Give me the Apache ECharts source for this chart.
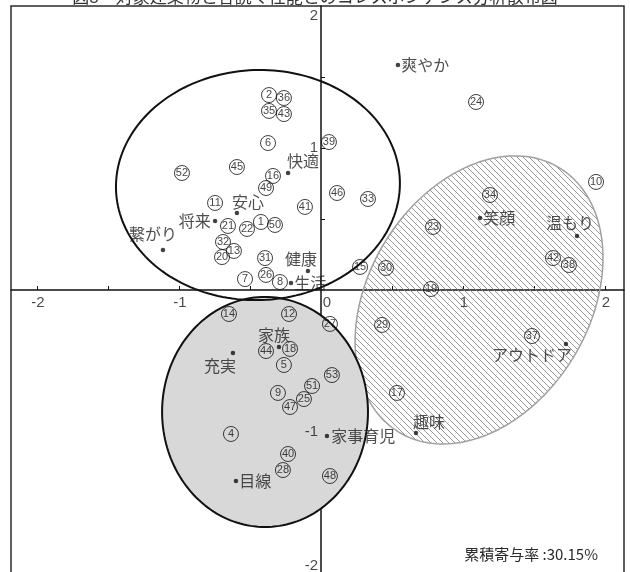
<!DOCTYPE html>
<html>
<head>
<meta charset="utf-8">
<title>コレスポンデンス分析散布図</title>
<script src="https://cdn.jsdelivr.net/npm/echarts@6/dist/echarts.min.js"></script>
<style>
  html, body { margin: 0; padding: 0; background: #fff; }
  #chart { width: 630px; height: 572px; }
</style>
</head>
<body>
<div id="chart"></div>
<script>
// ---- text ----
const titleText = '図8　対象建築物と各読く性能とのコレスポンデンス分析散布図';
const noteText = '累積寄与率 :30.15%';

// ---- axes ----
const xRange = [-2.183, 2.134];
const yRange = [-2, 2];
const xTickValues = [-2, -1.5, -1, -0.5, 0.5, 1, 1.5, 2];
const yTickValues = [-1.5, -1, -0.5, 0.5, 1, 1.5];
const xTickLabels = [-2, -1, 0, 1, 2];
const yTickLabels = [2, 1, -1, -2];

// ---- keyword (performance) points ----
const wordNames = ['爽やか', '快適', '安心', '将来', '繋がり', '健康', '生活', '笑顔', '温もり', 'アウトドア', '趣味', '家事育児', '家族', '充実', '目線'];
const wordX = [0.542, -0.232, -0.592, -0.746, -1.113, -0.092, -0.211, 1.120, 1.803, 1.725, 0.669, 0.042, -0.296, -0.620, -0.599];
const wordY = [1.585, 0.824, 0.542, 0.486, 0.282, 0.134, 0.049, 0.507, 0.380, -0.380, -1.007, -1.028, -0.401, -0.444, -1.345];

// ---- building points ----
const buildingIds = [1, 2, 4, 5, 6, 7, 8, 9, 10, 11, 12, 13, 14, 15, 16, 17, 18, 19, 20, 21, 22, 23, 24, 25, 26, 27, 28, 29, 30, 31, 32, 33, 34, 35, 36, 37, 38, 39, 40, 41, 42, 43, 44, 45, 46, 47, 48, 49, 50, 51, 52, 53];
const buildingX = [-0.423, -0.366, -0.634, -0.261, -0.373, -0.535, -0.289, -0.303, 1.937, -0.746, -0.225, -0.613, -0.648, 0.275, -0.338, 0.535, -0.218, 0.775, -0.697, -0.655, -0.521, 0.789, 1.092, -0.120, -0.387, 0.063, -0.268, 0.430, 0.458, -0.394, -0.690, 0.331, 1.190, -0.366, -0.261, 1.486, 1.746, 0.056, -0.232, -0.113, 1.634, -0.261, -0.387, -0.592, 0.113, -0.218, 0.063, -0.387, -0.324, -0.063, -0.979, 0.077];
const buildingY = [0.479, 1.373, -1.014, -0.528, 1.035, 0.077, 0.056, -0.725, 0.761, 0.613, -0.169, 0.275, -0.169, 0.162, 0.803, -0.725, -0.415, 0.007, 0.232, 0.451, 0.430, 0.444, 1.324, -0.768, 0.106, -0.239, -1.268, -0.246, 0.155, 0.225, 0.338, 0.641, 0.669, 1.261, 1.352, -0.324, 0.176, 1.042, -1.155, 0.585, 0.225, 1.239, -0.430, 0.866, 0.683, -0.824, -1.310, 0.718, 0.458, -0.676, 0.824, -0.599];

// ---- group ellipses: [upper-left outline, lower grey, right hatched] ----
const groupCenterX = [-0.444, -0.394, 1.113];
const groupCenterY = [0.739, -0.859, -0.070];
const groupRadiusA = [1.000, 0.725, 1.089];
const groupRadiusB = [0.810, 0.810, 0.778];
const groupAngle = [2, 0, 58.7];

// label placement for the keyword points: [position, dx, dy]
const wordLabelPlace = {
  '爽やか': ['right', -2, 0],
  '快適': ['top', 15, 1],
  '安心': ['top', 11, 2],
  '将来': ['left', 1, 0],
  '繋がり': ['top', -10, -3],
  '健康': ['top', -7, 1],
  '生活': ['right', -2, 0],
  '笑顔': ['right', -2, 0],
  '温もり': ['top', -7, 0],
  'アウトドア': ['bottom', -34, -2],
  '趣味': ['top', 13, 2],
  '家事育児': ['right', -1, 0],
  '家族': ['top', -5, 1],
  '充実': ['bottom', -13, 0],
  '目線': ['right', -2, 0]
};

const cjkFont = '"Noto Sans CJK JP", "Noto Sans CJK SC", sans-serif';
const numFont = '"Liberation Sans", Arial, sans-serif';

function hatchPattern() {
  const s = 6;
  const c = document.createElement('canvas');
  c.width = s; c.height = s;
  const g = c.getContext('2d');
  g.strokeStyle = '#8c8c8c';
  g.lineWidth = 0.9;
  g.beginPath();
  g.moveTo(0, 0); g.lineTo(s, s);
  g.moveTo(-1, s - 1); g.lineTo(1, s + 1);
  g.moveTo(s - 1, -1); g.lineTo(s + 1, 1);
  g.stroke();
  return { image: c, repeat: 'repeat' };
}

function ellipseSeries(i, style, z) {
  return {
    type: 'custom',
    z: z,
    silent: true,
    clip: false,
    data: [[groupCenterX[i], groupCenterY[i], groupRadiusA[i], groupRadiusB[i], groupAngle[i]]],
    renderItem: function (params, api) {
      const cx = api.value(0), cy = api.value(1);
      const a = api.value(2), b = api.value(3);
      const th = api.value(4) * Math.PI / 180;
      const pts = [];
      for (let k = 0; k < 180; k++) {
        const t = k / 180 * Math.PI * 2;
        const dx = a * Math.cos(t), dy = b * Math.sin(t);
        pts.push(api.coord([
          cx + dx * Math.cos(th) - dy * Math.sin(th),
          cy + dx * Math.sin(th) + dy * Math.cos(th)
        ]));
      }
      return { type: 'polygon', shape: { points: pts }, style: style };
    }
  };
}

const wordData = wordNames.map(function (n, i) {
  const p = wordLabelPlace[n];
  return {
    name: n,
    value: [wordX[i], wordY[i]],
    label: { position: p[0], offset: [p[1], p[2]] }
  };
});

const buildingData = buildingIds.map(function (id, i) {
  return { name: String(id), value: [buildingX[i], buildingY[i]] };
});

// tick labels sit next to the crossing axes
const xLabelData = xTickLabels.map(function (v) {
  return { name: String(v), value: [v, 0], label: { offset: [v === 0 ? 6 : 1, 0] } };
});
const yLabelData = yTickLabels.map(function (v) {
  const shift = v === yRange[1] ? 10 : (v === yRange[0] ? -8 : 0);
  return { name: String(v), value: [0, v], label: { offset: [0, shift] } };
});

const tickLabelStyle = { show: true, formatter: '{b}', fontSize: 15, color: '#1a1a1a', fontFamily: numFont };

const chart = echarts.init(document.getElementById('chart'), null, { renderer: 'canvas' });

chart.setOption({
  animation: false,
  backgroundColor: '#fff',
  grid: {
    left: 11, right: 6, top: 6, bottom: -2,
    show: true,
    borderColor: '#2b2b2b',
    borderWidth: 1.5,
    backgroundColor: 'transparent',
    containLabel: false,
    outerBoundsMode: 'none'
  },
  xAxis: {
    type: 'value',
    min: xRange[0], max: xRange[1],
    axisLine: { show: true, onZero: true, lineStyle: { color: '#111', width: 1.5 } },
    axisTick: { show: true, inside: true, length: 4, customValues: xTickValues, lineStyle: { color: '#111', width: 1 } },
    axisLabel: { show: false },
    splitLine: { show: false }
  },
  yAxis: {
    type: 'value',
    min: yRange[0], max: yRange[1],
    axisLine: { show: true, onZero: true, lineStyle: { color: '#111', width: 1.5 } },
    axisTick: { show: true, inside: true, length: 4, customValues: yTickValues, lineStyle: { color: '#111', width: 1 } },
    axisLabel: { show: false },
    splitLine: { show: false }
  },
  graphic: [
    {
      type: 'text', left: 'center', top: -12, z: 100,
      style: { text: titleText, fontSize: 17, fontFamily: cjkFont, fill: '#333' }
    },
    {
      type: 'text', right: 32, top: 547, z: 100,
      style: { text: noteText, fontSize: 15, fontFamily: cjkFont, fill: '#2a2a2a' }
    }
  ],
  series: [
    ellipseSeries(2, { fill: hatchPattern(), stroke: '#a0a0a0', lineWidth: 1.5 }, 1),
    ellipseSeries(1, { fill: '#d8d8d8', stroke: '#111', lineWidth: 2 }, 2),
    ellipseSeries(0, { fill: 'transparent', stroke: '#111', lineWidth: 2 }, 3),
    {
      type: 'scatter',
      z: 4,
      silent: true,
      data: xLabelData,
      symbolSize: 0,
      label: Object.assign({ position: 'bottom', distance: 5 }, tickLabelStyle),
      emphasis: { disabled: true }
    },
    {
      type: 'scatter',
      z: 4,
      silent: true,
      data: yLabelData,
      symbolSize: 0,
      label: Object.assign({ position: 'left', distance: 3 }, tickLabelStyle),
      emphasis: { disabled: true }
    },
    {
      type: 'scatter',
      z: 5,
      data: buildingData,
      symbol: 'circle',
      symbolSize: 15,
      itemStyle: { color: 'rgba(0,0,0,0)', borderColor: '#111', borderWidth: 1 },
      label: {
        show: true, position: 'inside', formatter: '{b}',
        fontSize: 11, color: '#111', fontFamily: numFont
      },
      emphasis: { disabled: true }
    },
    {
      type: 'scatter',
      z: 6,
      data: wordData,
      symbol: 'circle',
      symbolSize: 4.5,
      itemStyle: { color: '#111' },
      label: {
        show: true, formatter: '{b}', distance: 3,
        fontSize: 16, color: '#222', fontFamily: cjkFont
      },
      emphasis: { disabled: true }
    }
  ]
});
</script>
</body>
</html>
